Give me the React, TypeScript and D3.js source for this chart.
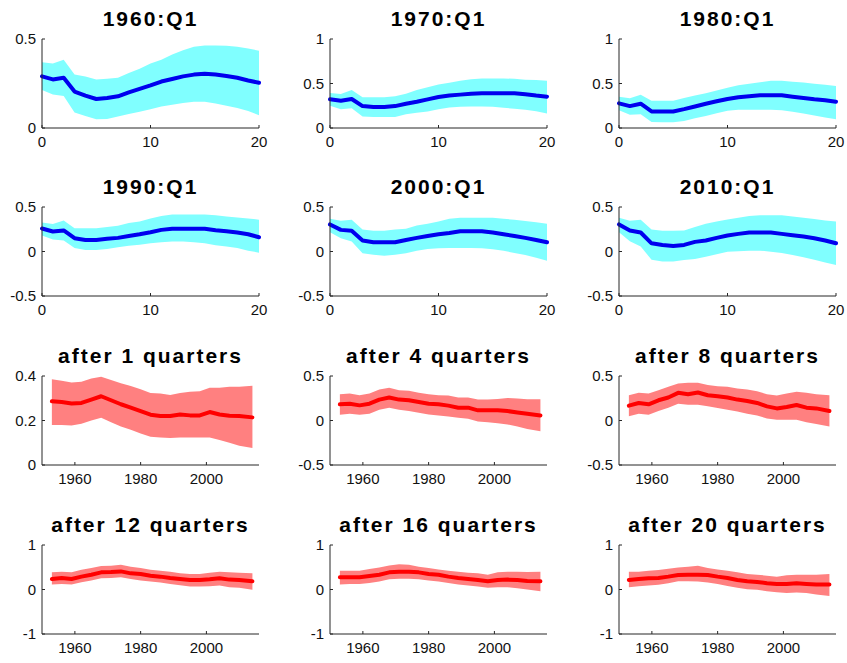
import { useEffect } from "react";
import * as d3 from "d3";

// impulse horizons (quarters) for the top two rows
const horizons = [0, 1, 2, 3, 4, 5, 6, 7, 8, 9, 10, 11, 12, 13, 14, 15, 16, 17, 18, 19, 20];

// sample dates for the bottom two rows
const years = [1953, 1956, 1959, 1962, 1965, 1968, 1971, 1974, 1977, 1980, 1983, 1986, 1989, 1992, 1995, 1998, 2001, 2004, 2007, 2010, 2014];

// responses by starting date: median, upper, lower
const q1960Med = [0.29, 0.273, 0.282, 0.205, 0.182, 0.163, 0.169, 0.178, 0.2, 0.22, 0.239, 0.261, 0.275, 0.29, 0.3, 0.305, 0.3, 0.292, 0.282, 0.267, 0.254];
const q1960Hi = [0.369, 0.362, 0.384, 0.301, 0.29, 0.273, 0.277, 0.282, 0.309, 0.333, 0.362, 0.384, 0.413, 0.437, 0.456, 0.464, 0.464, 0.462, 0.456, 0.447, 0.434];
const q1960Lo = [0.214, 0.188, 0.18, 0.087, 0.068, 0.049, 0.051, 0.064, 0.078, 0.091, 0.106, 0.121, 0.13, 0.14, 0.148, 0.148, 0.138, 0.125, 0.112, 0.095, 0.072];

const q1970Med = [0.322, 0.307, 0.326, 0.246, 0.235, 0.235, 0.246, 0.273, 0.295, 0.322, 0.348, 0.364, 0.375, 0.386, 0.39, 0.39, 0.39, 0.39, 0.379, 0.364, 0.352];
const q1970Hi = [0.394, 0.383, 0.428, 0.345, 0.345, 0.345, 0.356, 0.386, 0.428, 0.458, 0.489, 0.508, 0.53, 0.549, 0.557, 0.557, 0.557, 0.553, 0.542, 0.538, 0.53];
const q1970Lo = [0.25, 0.212, 0.223, 0.129, 0.125, 0.125, 0.125, 0.155, 0.17, 0.186, 0.212, 0.231, 0.239, 0.242, 0.242, 0.239, 0.227, 0.216, 0.205, 0.189, 0.163];

const q1980Med = [0.277, 0.246, 0.273, 0.186, 0.186, 0.186, 0.212, 0.242, 0.273, 0.3, 0.326, 0.345, 0.356, 0.367, 0.367, 0.367, 0.352, 0.337, 0.322, 0.311, 0.295];
const q1980Hi = [0.352, 0.333, 0.375, 0.307, 0.307, 0.307, 0.337, 0.364, 0.39, 0.42, 0.451, 0.481, 0.496, 0.515, 0.53, 0.53, 0.519, 0.511, 0.496, 0.485, 0.473];
const q1980Lo = [0.2, 0.148, 0.155, 0.068, 0.064, 0.064, 0.08, 0.11, 0.136, 0.167, 0.193, 0.205, 0.205, 0.205, 0.205, 0.2, 0.182, 0.163, 0.14, 0.117, 0.098];

const q1990Med = [0.258, 0.225, 0.236, 0.149, 0.13, 0.13, 0.142, 0.153, 0.175, 0.194, 0.217, 0.243, 0.255, 0.255, 0.255, 0.255, 0.24, 0.228, 0.213, 0.194, 0.16];
const q1990Hi = [0.326, 0.308, 0.349, 0.262, 0.262, 0.262, 0.274, 0.289, 0.319, 0.338, 0.372, 0.398, 0.417, 0.417, 0.417, 0.417, 0.406, 0.394, 0.383, 0.372, 0.357];
const q1990Lo = [0.179, 0.134, 0.123, 0.04, 0.017, 0.017, 0.028, 0.047, 0.066, 0.077, 0.092, 0.104, 0.111, 0.111, 0.104, 0.092, 0.07, 0.055, 0.04, 0.009, -0.013];

const q2000Med = [0.304, 0.243, 0.232, 0.123, 0.104, 0.104, 0.104, 0.13, 0.153, 0.175, 0.194, 0.209, 0.228, 0.228, 0.228, 0.213, 0.194, 0.175, 0.153, 0.13, 0.104];
const q2000Hi = [0.368, 0.345, 0.357, 0.247, 0.232, 0.232, 0.247, 0.255, 0.292, 0.311, 0.338, 0.368, 0.379, 0.379, 0.379, 0.379, 0.368, 0.357, 0.342, 0.33, 0.311];
const q2000Lo = [0.217, 0.149, 0.111, -0.021, -0.036, -0.047, -0.036, -0.021, 0.009, 0.028, 0.036, 0.04, 0.04, 0.04, 0.036, 0.025, 0.009, -0.017, -0.04, -0.07, -0.104];

const q2010Med = [0.304, 0.236, 0.213, 0.092, 0.074, 0.062, 0.074, 0.108, 0.123, 0.153, 0.179, 0.198, 0.213, 0.213, 0.213, 0.198, 0.183, 0.168, 0.149, 0.123, 0.092];
const q2010Hi = [0.379, 0.345, 0.357, 0.247, 0.232, 0.232, 0.236, 0.274, 0.311, 0.338, 0.36, 0.379, 0.398, 0.406, 0.406, 0.406, 0.394, 0.379, 0.364, 0.349, 0.338];
const q2010Lo = [0.217, 0.115, 0.055, -0.092, -0.111, -0.111, -0.096, -0.085, -0.058, -0.032, -0.002, 0.002, 0.009, 0.009, -0.002, -0.017, -0.04, -0.066, -0.092, -0.123, -0.153];

// responses by horizon over time: median, upper, lower
const h1Med = [0.286, 0.283, 0.276, 0.279, 0.294, 0.309, 0.291, 0.273, 0.258, 0.242, 0.226, 0.22, 0.22, 0.227, 0.223, 0.223, 0.238, 0.227, 0.221, 0.22, 0.214];
const h1Hi = [0.385, 0.379, 0.371, 0.374, 0.389, 0.397, 0.382, 0.367, 0.355, 0.341, 0.324, 0.321, 0.315, 0.324, 0.329, 0.332, 0.347, 0.347, 0.352, 0.352, 0.356];
const h1Lo = [0.18, 0.18, 0.177, 0.185, 0.2, 0.212, 0.192, 0.173, 0.158, 0.142, 0.127, 0.124, 0.121, 0.124, 0.124, 0.124, 0.124, 0.112, 0.1, 0.086, 0.076];

const h4Med = [0.182, 0.189, 0.17, 0.189, 0.235, 0.258, 0.235, 0.227, 0.208, 0.189, 0.182, 0.167, 0.144, 0.144, 0.114, 0.114, 0.114, 0.106, 0.091, 0.076, 0.057];
const h4Hi = [0.295, 0.303, 0.284, 0.303, 0.348, 0.367, 0.341, 0.333, 0.311, 0.295, 0.284, 0.28, 0.258, 0.258, 0.235, 0.235, 0.242, 0.254, 0.246, 0.239, 0.239];
const h4Lo = [0.064, 0.076, 0.064, 0.076, 0.121, 0.144, 0.121, 0.106, 0.087, 0.068, 0.057, 0.045, 0.03, 0.019, -0.011, -0.019, -0.03, -0.045, -0.068, -0.095, -0.121];

const h8Med = [0.167, 0.197, 0.182, 0.227, 0.258, 0.311, 0.295, 0.314, 0.284, 0.273, 0.258, 0.235, 0.22, 0.197, 0.159, 0.136, 0.152, 0.174, 0.144, 0.136, 0.106];
const h8Hi = [0.284, 0.311, 0.303, 0.341, 0.379, 0.417, 0.424, 0.424, 0.398, 0.386, 0.379, 0.36, 0.348, 0.33, 0.295, 0.28, 0.303, 0.322, 0.311, 0.295, 0.284];
const h8Lo = [0.049, 0.076, 0.064, 0.106, 0.144, 0.189, 0.178, 0.178, 0.159, 0.14, 0.121, 0.102, 0.076, 0.057, 0.023, 0.008, 0.008, 0.008, -0.019, -0.038, -0.068];

const h12Med = [0.237, 0.259, 0.237, 0.289, 0.333, 0.385, 0.393, 0.407, 0.363, 0.348, 0.311, 0.289, 0.259, 0.237, 0.215, 0.215, 0.23, 0.252, 0.222, 0.215, 0.185];
const h12Hi = [0.385, 0.4, 0.385, 0.444, 0.481, 0.526, 0.533, 0.556, 0.511, 0.481, 0.444, 0.422, 0.4, 0.363, 0.348, 0.348, 0.378, 0.4, 0.385, 0.378, 0.363];
const h12Lo = [0.111, 0.126, 0.111, 0.163, 0.2, 0.252, 0.259, 0.274, 0.237, 0.2, 0.178, 0.156, 0.126, 0.096, 0.067, 0.067, 0.074, 0.089, 0.052, 0.037, -0.007];

const h16Med = [0.274, 0.274, 0.274, 0.304, 0.333, 0.385, 0.4, 0.4, 0.385, 0.348, 0.333, 0.289, 0.259, 0.237, 0.215, 0.185, 0.215, 0.222, 0.215, 0.193, 0.185];
const h16Hi = [0.422, 0.422, 0.422, 0.459, 0.496, 0.541, 0.57, 0.556, 0.511, 0.481, 0.452, 0.422, 0.4, 0.378, 0.363, 0.333, 0.385, 0.4, 0.4, 0.393, 0.4];
const h16Lo = [0.111, 0.126, 0.126, 0.148, 0.178, 0.23, 0.244, 0.244, 0.23, 0.2, 0.178, 0.148, 0.111, 0.089, 0.067, 0.037, 0.052, 0.052, 0.03, 0, -0.037];

const h20Med = [0.215, 0.237, 0.252, 0.259, 0.289, 0.326, 0.333, 0.333, 0.326, 0.289, 0.259, 0.215, 0.185, 0.17, 0.141, 0.126, 0.126, 0.141, 0.126, 0.111, 0.111];
const h20Hi = [0.4, 0.4, 0.422, 0.437, 0.467, 0.496, 0.511, 0.533, 0.481, 0.452, 0.422, 0.385, 0.348, 0.333, 0.311, 0.289, 0.319, 0.333, 0.333, 0.333, 0.348];
const h20Lo = [0.052, 0.074, 0.089, 0.104, 0.141, 0.185, 0.185, 0.178, 0.156, 0.126, 0.081, 0.037, 0.007, -0.007, -0.037, -0.059, -0.081, -0.067, -0.081, -0.111, -0.148];

const titles = [
  "1960:Q1", "1970:Q1", "1980:Q1",
  "1990:Q1", "2000:Q1", "2010:Q1",
  "after 1 quarters", "after 4 quarters", "after 8 quarters",
  "after 12 quarters", "after 16 quarters", "after 20 quarters",
];

const W = 847;
const H = 663;
const colLeft = [42, 330, 619];
const rowTop = [39, 207, 376, 545];
const plotW = 217;
const plotH = 89;
const font = "'Liberation Sans', Arial, Helvetica, sans-serif";

interface PanelProps {
  x: number[];
  med: number[];
  hi: number[];
  lo: number[];
  xDomain: [number, number];
  xTicks: number[];
  yDomain: [number, number];
  yTicks: number[];
  title: string;
  left: number;
  top: number;
  line: string;
  band: string;
}

function Panel({ x, med, hi, lo, xDomain, xTicks, yDomain, yTicks, title, left, top, line, band }: PanelProps) {
  const xs = d3.scaleLinear().domain(xDomain).range([0, plotW]);
  const ys = d3.scaleLinear().domain(yDomain).range([plotH, 0]);
  const idx = d3.range(x.length);

  const area = d3
    .area<number>()
    .x((i) => xs(x[i]))
    .y0((i) => ys(lo[i]))
    .y1((i) => ys(hi[i]));
  const path = d3
    .line<number>()
    .x((i) => xs(x[i]))
    .y((i) => ys(med[i]));

  const fmt = (v: number) => String(v);

  return (
    <g transform={`translate(${left},${top})`}>
      <path d={area(idx) ?? ""} fill={band} stroke="none" />
      <path d={path(idx) ?? ""} fill="none" stroke={line} strokeWidth={4} strokeLinejoin="round" strokeLinecap="round" />
      <line x1={0} x2={plotW} y1={plotH} y2={plotH} stroke="#262626" strokeWidth={1} />
      <line x1={0} x2={0} y1={0} y2={plotH} stroke="#262626" strokeWidth={1} />
      {xTicks.map((t) => (
        <g key={`x${t}`}>
          <line x1={xs(t)} x2={xs(t)} y1={plotH} y2={plotH - 3} stroke="#262626" />
          <text x={xs(t)} y={plotH + 18.5} textAnchor="middle" fontSize={15} fill="#111" fontFamily={font}>
            {fmt(t)}
          </text>
        </g>
      ))}
      {yTicks.map((t) => (
        <g key={`y${t}`}>
          <line x1={0} x2={3} y1={ys(t)} y2={ys(t)} stroke="#262626" />
          <text x={-6} y={ys(t) + 5} textAnchor="end" fontSize={15} fill="#111" fontFamily={font}>
            {fmt(t)}
          </text>
        </g>
      ))}
      <text
        x={plotW / 2}
        y={-13}
        textAnchor="middle"
        fontSize={21}
        fontWeight="bold"
        letterSpacing={2}
        fill="#000"
        fontFamily={font}
      >
        {title}
      </text>
    </g>
  );
}

export default function App() {
  useEffect(() => {
    document.body.style.margin = "0";
  }, []);

  const cyan = "#80ffff";
  const blue = "#0000ee";
  const pink = "#ff8080";
  const red = "#ff0000";
  const hDom: [number, number] = [0, 20];
  const hTicks = [0, 10, 20];
  const yDom: [number, number] = [1950, 2016];
  const yrTicks = [1960, 1980, 2000];

  const top = [
    { med: q1960Med, hi: q1960Hi, lo: q1960Lo, yd: [0, 0.5] as [number, number], yt: [0, 0.5] },
    { med: q1970Med, hi: q1970Hi, lo: q1970Lo, yd: [0, 1] as [number, number], yt: [0, 0.5, 1] },
    { med: q1980Med, hi: q1980Hi, lo: q1980Lo, yd: [0, 1] as [number, number], yt: [0, 0.5, 1] },
    { med: q1990Med, hi: q1990Hi, lo: q1990Lo, yd: [-0.5, 0.5] as [number, number], yt: [-0.5, 0, 0.5] },
    { med: q2000Med, hi: q2000Hi, lo: q2000Lo, yd: [-0.5, 0.5] as [number, number], yt: [-0.5, 0, 0.5] },
    { med: q2010Med, hi: q2010Hi, lo: q2010Lo, yd: [-0.5, 0.5] as [number, number], yt: [-0.5, 0, 0.5] },
  ];
  const bottom = [
    { med: h1Med, hi: h1Hi, lo: h1Lo, yd: [0, 0.4] as [number, number], yt: [0, 0.2, 0.4] },
    { med: h4Med, hi: h4Hi, lo: h4Lo, yd: [-0.5, 0.5] as [number, number], yt: [-0.5, 0, 0.5] },
    { med: h8Med, hi: h8Hi, lo: h8Lo, yd: [-0.5, 0.5] as [number, number], yt: [-0.5, 0, 0.5] },
    { med: h12Med, hi: h12Hi, lo: h12Lo, yd: [-1, 1] as [number, number], yt: [-1, 0, 1] },
    { med: h16Med, hi: h16Hi, lo: h16Lo, yd: [-1, 1] as [number, number], yt: [-1, 0, 1] },
    { med: h20Med, hi: h20Hi, lo: h20Lo, yd: [-1, 1] as [number, number], yt: [-1, 0, 1] },
  ];

  return (
    <svg width={W} height={H} style={{ display: "block", background: "#fff" }}>
      {top.map((p, i) => (
        <Panel
          key={titles[i]}
          x={horizons}
          med={p.med}
          hi={p.hi}
          lo={p.lo}
          xDomain={hDom}
          xTicks={hTicks}
          yDomain={p.yd}
          yTicks={p.yt}
          title={titles[i]}
          left={colLeft[i % 3]}
          top={rowTop[Math.floor(i / 3)]}
          line={blue}
          band={cyan}
        />
      ))}
      {bottom.map((p, i) => (
        <Panel
          key={titles[i + 6]}
          x={years}
          med={p.med}
          hi={p.hi}
          lo={p.lo}
          xDomain={yDom}
          xTicks={yrTicks}
          yDomain={p.yd}
          yTicks={p.yt}
          title={titles[i + 6]}
          left={colLeft[i % 3]}
          top={rowTop[2 + Math.floor(i / 3)]}
          line={red}
          band={pink}
        />
      ))}
    </svg>
  );
}
